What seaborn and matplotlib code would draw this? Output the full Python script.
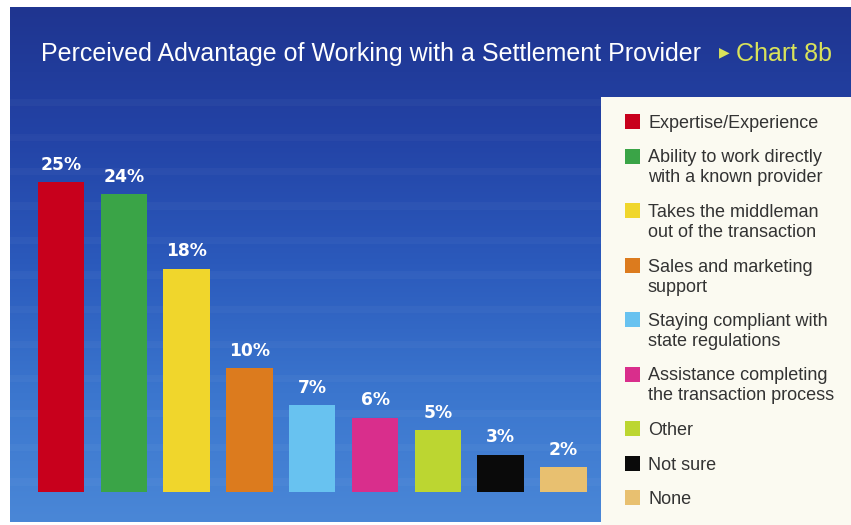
import numpy as np
import matplotlib
matplotlib.use("Agg")
import matplotlib.pyplot as plt
from matplotlib.colors import LinearSegmentedColormap
from matplotlib.patches import Rectangle
import seaborn as sns

# Survey results
categories = [
    "Expertise/Experience",
    "Ability to work directly\nwith a known provider",
    "Takes the middleman\nout of the transaction",
    "Sales and marketing\nsupport",
    "Staying compliant with\nstate regulations",
    "Assistance completing\nthe transaction process",
    "Other",
    "Not sure",
    "None",
]
values = [25, 24, 18, 10, 7, 6, 5, 3, 2]
colors = ["#c8001c", "#3aa447", "#f0d62c", "#dc7b1e", "#68c2f0",
          "#d92e8c", "#bcd631", "#0a0a0a", "#e8c070"]

title = "Perceived Advantage of Working with a Settlement Provider"
chart_tag = "Chart 8b"

W, H = 851, 525
sns.set_theme(style="white")
plt.rcParams["font.family"] = ["Liberation Sans", "DejaVu Sans"]

fig = plt.figure(figsize=(W / 100, H / 100), dpi=100, facecolor="white")


def fx(px):
    return px / W


def fy(py):
    return 1 - py / H


# blue gradient panel
bg = fig.add_axes([fx(10), fy(522), fx(841), (522 - 7) / H])
grad = LinearSegmentedColormap.from_list(
    "panel", ["#1f3590", "#2343a6", "#2b5abc", "#3b76ce", "#4a87d7"])
bg.imshow(np.linspace(0, 1, 256)[:, None], aspect="auto", cmap=grad,
          extent=[0, 1, 0, 1], origin="upper")
# soft horizontal banding
for yb in np.arange(92, 500, 34.5):
    bg.axhspan(1 - (yb + 7) / 515, 1 - yb / 515, color="white", alpha=0.03, lw=0)
bg.set_xlim(0, 1)
bg.set_ylim(0, 1)
bg.axis("off")

# legend panel
fig.patches.append(Rectangle((fx(601), 0), fx(250), (525 - 97) / H,
                             transform=fig.transFigure, facecolor="#fbfaf1",
                             edgecolor="none", zorder=1))

# bars
ax = fig.add_axes([fx(29.6), 33 / H, fx(565.2), 372 / H])
ax.patch.set_alpha(0)
sns.barplot(x=list(range(len(values))), y=values, hue=list(range(len(values))),
            palette=colors, legend=False, width=0.737, saturation=1,
            edgecolor="none", ax=ax)
ax.set_xlim(-0.5, len(values) - 0.5)
ax.set_ylim(0, 30)
ax.axis("off")

for bar, v in zip(ax.patches, values):
    ax.annotate(f"{v}%", (bar.get_x() + bar.get_width() / 2, bar.get_height()),
                xytext=(0, 9), textcoords="offset points", ha="center",
                va="baseline", color="white", fontsize=12.3, fontweight="bold",
                family=["DejaVu Sans"])

# title
fig.text(fx(41), fy(61), title, color="white", fontsize=18, va="baseline")
fig.text(fx(724), fy(52.5), "\u25b6", color="#d9e25a", fontsize=10,
         ha="center", va="center", family=["DejaVu Sans"])
fig.text(fx(736), fy(61), chart_tag, color="#d9e25a", fontsize=18,
         va="baseline")

# legend entries
y0 = 121.5
for label, c in zip(categories, colors):
    lines = label.split("\n")
    fig.patches.append(Rectangle((fx(625), fy(y0 + 7.5)), fx(15), 15 / H,
                                 transform=fig.transFigure, facecolor=c,
                                 edgecolor="none", zorder=2))
    for i, line in enumerate(lines):
        fig.text(fx(648), fy(y0 + 20 * i + 6.5), line, color="#333333",
                 fontsize=13, va="baseline", zorder=3)
    y0 += 34.5 + 20 * (len(lines) - 1)

fig.savefig("out.png", dpi=100, facecolor="white")
